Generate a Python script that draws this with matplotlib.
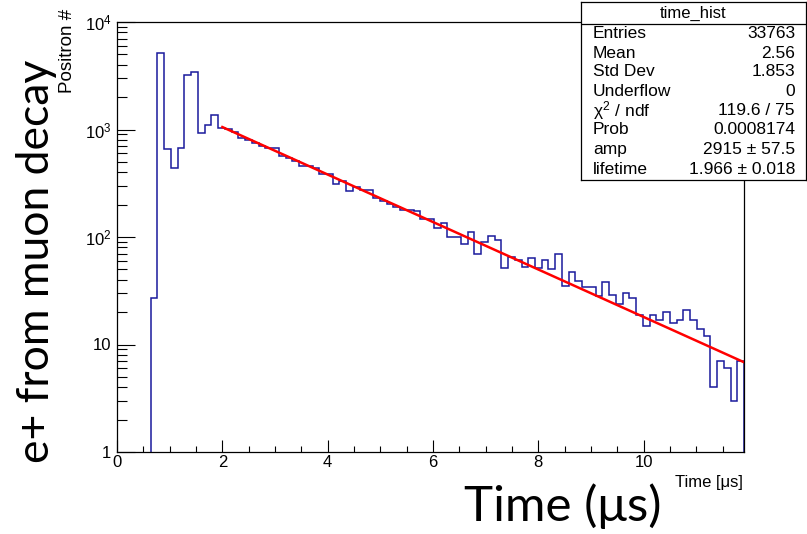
import numpy as np
import matplotlib
matplotlib.use("Agg")
import matplotlib.pyplot as plt
from matplotlib.ticker import FixedLocator, FixedFormatter, MultipleLocator, LogLocator, NullFormatter

# ---- data ----
bin_width = 0.128
n_bins = 93
counts = [0, 0, 0, 0, 0, 27, 5100, 655, 442, 679,
          3226, 3443, 936, 1104, 1369, 1043, 1015, 957, 841, 800,
          756, 703, 679, 679, 567, 540, 509, 457, 457, 442,
          383, 383, 313, 330, 267, 291, 273, 273, 232, 216,
          204, 190, 177, 180, 174, 148, 146, 120, 136, 101,
          100, 86, 111, 70, 89, 103, 93, 52, 65, 61,
          53, 64, 52, 61, 50, 70, 35, 47, 39, 34,
          34, 28, 38, 29, 24, 30, 27, 19, 15, 19,
          17, 20, 16, 17, 21, 17, 14, 12, 4, 7,
          6, 3, 7]
fit_amp = 2915.0
fit_lifetime = 1.966
fit_start = 2.0

x_ticks = [0, 2, 4, 6, 8, 10]
x_ticklabels = ["0", "2", "4", "6", "8", "10"]
y_ticks = [1, 10, 100, 1000, 10000]
y_ticklabels = ["1", "10", r"$10^{2}$", r"$10^{3}$", r"$10^{4}$"]

stats_title = "time_hist"
stats_names = ["Entries", "Mean", "Std Dev", "Underflow", r"$\chi^{2}$ / ndf", "Prob", "amp", "lifetime"]
stats_values = ["33763", "2.56", "1.853", "0", "119.6 / 75", "0.0008174", "2915 \u00b1 57.5", "1.966 \u00b1 0.018"]

# ---- figure ----
W, H = 807, 534
fig = plt.figure(figsize=(W / 100, H / 100), dpi=100)
root_font = "Liberation Sans"
plt.rcParams['font.family'] = [root_font, 'DejaVu Sans']
plt.rcParams['mathtext.fontset'] = 'custom'
plt.rcParams['mathtext.rm'] = root_font
plt.rcParams['mathtext.it'] = root_font

def fx(px):
    return px / W

def fy(py):
    return 1 - py / H

ax = fig.add_axes([fx(117), fy(452), fx(744) - fx(117), fy(22) - fy(452)])

edges = np.arange(n_bins + 1) * bin_width
vals = np.array(counts, dtype=float)
first = int(np.argmax(vals > 0))
ax.stairs(vals[first:], edges[first:], baseline=1, color="#1a1a9c", lw=1.1)

t = np.linspace(fit_start, edges[-1], 300)
ax.plot(t, fit_amp * np.exp(-t / fit_lifetime), color="#ff0000", lw=1.8)

ax.set_yscale("log")
ax.set_xlim(0, edges[-1])
ax.set_ylim(1, 1e4)

ax.xaxis.set_major_locator(FixedLocator(x_ticks))
ax.xaxis.set_major_formatter(FixedFormatter(x_ticklabels))
ax.xaxis.set_minor_locator(MultipleLocator(0.5))
ax.yaxis.set_major_locator(FixedLocator(y_ticks))
ax.yaxis.set_major_formatter(FixedFormatter(y_ticklabels))
ax.yaxis.set_minor_locator(LogLocator(base=10, subs=np.arange(2, 10)))
ax.yaxis.set_minor_formatter(NullFormatter())

ax.tick_params(axis="x", which="major", direction="in", length=9, width=0.8, labelsize=12, pad=2)
ax.tick_params(axis="x", which="minor", direction="in", length=4.5, width=0.8)
ax.tick_params(axis="y", which="major", direction="in", length=13, width=0.8, labelsize=12, pad=4)
ax.tick_params(axis="y", which="minor", direction="in", length=7, width=0.8)
for s in ax.spines.values():
    s.set_linewidth(0.9)

# small ROOT axis titles
fig.text(fx(743), fy(482), "Time [\u03bcs]", ha="right", va="center", fontsize=12)
fig.text(fx(67), fy(9), "Positron #", ha="center", va="top", rotation=90, fontsize=13.5)

# big overlay labels
big = ["Lato", "DejaVu Sans"]
fig.text(fx(37), fy(261), "e+ from muon decay", ha="center", va="center",
         rotation=90, fontsize=32, family=big)
fig.text(fx(563), fy(506), "Time (\u03bcs)", ha="center", va="center",
         fontsize=35.5, family=big)

# stats box
sx0, sx1, sy0, sy1 = 581, 806, 2, 180
sax = fig.add_axes([fx(sx0), fy(sy1), fx(sx1) - fx(sx0), fy(sy0) - fy(sy1)])
sax.set_xticks([])
sax.set_yticks([])
sax.set_xlim(sx0, sx1)
sax.set_ylim(sy1, sy0)
for s in sax.spines.values():
    s.set_linewidth(0.9)
sax.axhline(24, color="black", lw=0.9)
sax.text((sx0 + sx1) / 2, 13, stats_title, ha="center", va="center", fontsize=12)
row_y = [34, 53, 72, 92, 111, 130, 150, 170]
for yy, nm, vv in zip(row_y, stats_names, stats_values):
    sax.text(593, yy, nm, ha="left", va="center", fontsize=12.5)
    sax.text(795, yy, vv, ha="right", va="center", fontsize=12.5)

fig.savefig("out.png", dpi=100)
